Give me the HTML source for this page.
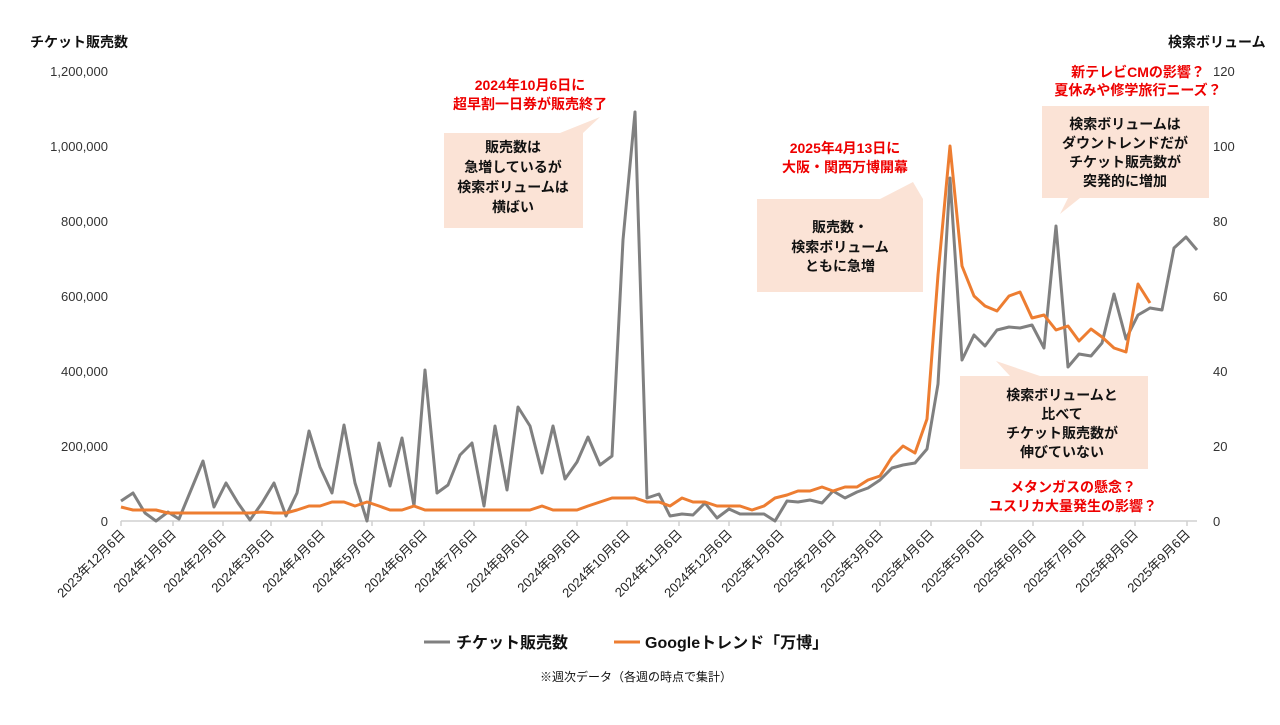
<!DOCTYPE html>
<html><head><meta charset="utf-8"><style>
body{margin:0;background:#fff;}
svg text{font-family:"Liberation Sans","Noto Sans CJK JP",sans-serif;}
</style></head><body>
<svg width="1280" height="720" viewBox="0 0 1280 720" xmlns="http://www.w3.org/2000/svg">
<rect width="1280" height="720" fill="#fff"/>
<text x="30" y="47" font-size="14" font-weight="bold" fill="#111">チケット販売数</text>
<text x="1168" y="47" font-size="14" font-weight="bold" fill="#111">検索ボリューム</text>
<g font-size="13" fill="#333" text-anchor="end">
<text x="108" y="76">1,200,000</text>
<text x="108" y="151">1,000,000</text>
<text x="108" y="226">800,000</text>
<text x="108" y="301">600,000</text>
<text x="108" y="376">400,000</text>
<text x="108" y="451">200,000</text>
<text x="108" y="526">0</text>
</g>
<g font-size="13" fill="#333">
<text x="1213" y="76">120</text>
<text x="1213" y="151">100</text>
<text x="1213" y="226">80</text>
<text x="1213" y="301">60</text>
<text x="1213" y="376">40</text>
<text x="1213" y="451">20</text>
<text x="1213" y="526">0</text>
</g>
<line x1="121" y1="521" x2="1197" y2="521" stroke="#d0d0d0" stroke-width="1.5"/>
<g stroke="#d0d0d0" stroke-width="1.5">
<line x1="121" y1="521" x2="121" y2="526"/><line x1="173" y1="521" x2="173" y2="526"/><line x1="223" y1="521" x2="223" y2="526"/><line x1="271" y1="521" x2="271" y2="526"/><line x1="322" y1="521" x2="322" y2="526"/><line x1="372" y1="521" x2="372" y2="526"/><line x1="424" y1="521" x2="424" y2="526"/><line x1="474" y1="521" x2="474" y2="526"/><line x1="526" y1="521" x2="526" y2="526"/><line x1="577" y1="521" x2="577" y2="526"/><line x1="627" y1="521" x2="627" y2="526"/><line x1="679" y1="521" x2="679" y2="526"/><line x1="729" y1="521" x2="729" y2="526"/><line x1="781" y1="521" x2="781" y2="526"/><line x1="833" y1="521" x2="833" y2="526"/><line x1="880" y1="521" x2="880" y2="526"/><line x1="931" y1="521" x2="931" y2="526"/><line x1="981" y1="521" x2="981" y2="526"/><line x1="1033" y1="521" x2="1033" y2="526"/><line x1="1083" y1="521" x2="1083" y2="526"/><line x1="1135" y1="521" x2="1135" y2="526"/><line x1="1187" y1="521" x2="1187" y2="526"/>
</g>
<g font-size="13" fill="#222" text-anchor="end">
<text transform="translate(126,535) rotate(-45)">2023年12月6日</text>
<text transform="translate(177,535) rotate(-45)">2024年1月6日</text>
<text transform="translate(227,535) rotate(-45)">2024年2月6日</text>
<text transform="translate(275,535) rotate(-45)">2024年3月6日</text>
<text transform="translate(326,535) rotate(-45)">2024年4月6日</text>
<text transform="translate(376,535) rotate(-45)">2024年5月6日</text>
<text transform="translate(428,535) rotate(-45)">2024年6月6日</text>
<text transform="translate(478,535) rotate(-45)">2024年7月6日</text>
<text transform="translate(530,535) rotate(-45)">2024年8月6日</text>
<text transform="translate(581,535) rotate(-45)">2024年9月6日</text>
<text transform="translate(631,535) rotate(-45)">2024年10月6日</text>
<text transform="translate(683,535) rotate(-45)">2024年11月6日</text>
<text transform="translate(733,535) rotate(-45)">2024年12月6日</text>
<text transform="translate(785,535) rotate(-45)">2025年1月6日</text>
<text transform="translate(837,535) rotate(-45)">2025年2月6日</text>
<text transform="translate(884,535) rotate(-45)">2025年3月6日</text>
<text transform="translate(935,535) rotate(-45)">2025年4月6日</text>
<text transform="translate(985,535) rotate(-45)">2025年5月6日</text>
<text transform="translate(1037,535) rotate(-45)">2025年6月6日</text>
<text transform="translate(1087,535) rotate(-45)">2025年7月6日</text>
<text transform="translate(1139,535) rotate(-45)">2025年8月6日</text>
<text transform="translate(1191,535) rotate(-45)">2025年9月6日</text>
</g>
<g fill="#fbe3d6">
<path d="M444,133 H560 L600,117 L583,133 V228 H444 Z"/>
<path d="M757,199 H880 L913,182 L923,199 V292 H757 Z"/>
<path d="M1042,106 H1209 V198 H1080 L1060,214 L1068,198 H1042 Z"/>
<path d="M960,376 H1148 V469 H960 Z M1040,376 L996,361 L1010,376 Z"/>
</g>
<g font-size="14" font-weight="bold" fill="#111" text-anchor="middle">
<text x="513" y="152">販売数は</text><text x="513" y="172">急増しているが</text><text x="513" y="192">検索ボリュームは</text><text x="513" y="212">横ばい</text>
<text x="840" y="232">販売数・</text><text x="840" y="252">検索ボリューム</text><text x="840" y="271">ともに急増</text>
<text x="1125" y="129">検索ボリュームは</text><text x="1125" y="148">ダウントレンドだが</text><text x="1125" y="167">チケット販売数が</text><text x="1125" y="186">突発的に増加</text>
<text x="1062" y="400">検索ボリュームと</text><text x="1062" y="419">比べて</text><text x="1062" y="438">チケット販売数が</text><text x="1062" y="457">伸びていない</text>
</g>
<g font-size="14" font-weight="bold" fill="#ee0000" text-anchor="middle">
<text x="530" y="90">2024年10月6日に</text><text x="530" y="109">超早割一日券が販売終了</text>
<text x="845" y="153">2025年4月13日に</text><text x="845" y="172">大阪・関西万博開幕</text>
<text x="1138" y="77">新テレビCMの影響？</text><text x="1138" y="95">夏休みや修学旅行ニーズ？</text>
<text x="1073" y="492">メタンガスの懸念？</text><text x="1073" y="511">ユスリカ大量発生の影響？</text>
</g>
<polyline fill="none" stroke="#808080" stroke-width="3" stroke-linejoin="round" points="121,501 133,493 145,513 156,521 168,512 179,519 191,490 203,461 214,507 226,483 238,503 250,520 262,503 274,483 286,516 297,493 309,431 320,467 332,493 344,425 355,483 367,521 379,443 390,486 402,438 414,506 425,370 437,493 448,485 460,455 472,443 484,506 495,426 507,490 518,407 530,426 542,473 553,426 565,479 577,462 588,437 600,465 612,456 623,240 635,112 647,498 659,494 670,516 682,514 693,515 705,503 717,518 729,509 740,514 752,514 764,514 775,521 787,501 798,502 810,500 822,503 833,491 845,498 857,492 868,488 880,480 892,468 903,465 915,463 927,449 938,384 950,178 962,360 974,335 985,346 997,330 1009,327 1020,328 1032,325 1044,348 1056,226 1068,367 1079,354 1091,356 1102,343 1114,294 1126,339 1138,315 1150,308 1162,310 1174,248 1186,237 1197,250"/>
<polyline fill="none" stroke="#ed7d31" stroke-width="3" stroke-linejoin="round" points="121,507 133,510 145,510 156,510 168,513 179,513 191,513 203,513 214,513 226,513 238,513 250,513 262,512 274,513 286,513 297,510 309,506 320,506 332,502 344,502 355,506 367,502 379,506 390,510 402,510 414,506 425,510 437,510 448,510 460,510 472,510 484,510 495,510 507,510 518,510 530,510 542,506 553,510 565,510 577,510 588,506 600,502 612,498 623,498 635,498 647,502 659,502 670,506 682,498 693,502 705,502 717,506 729,506 740,506 752,510 764,506 775,498 787,495 798,491 810,491 822,487 833,491 845,487 857,487 868,480 880,476 892,457 903,446 915,453 927,419 938,275 950,146 962,266 974,296 985,306 997,311 1009,296 1020,292 1032,318 1044,315 1056,330 1068,326 1079,341 1091,329 1102,337 1114,348 1126,352 1138,284 1150,303"/>
<line x1="424" y1="642" x2="450" y2="642" stroke="#808080" stroke-width="3"/>
<text x="456" y="648" font-size="16" font-weight="bold" fill="#111">チケット販売数</text>
<line x1="614" y1="642" x2="640" y2="642" stroke="#ed7d31" stroke-width="3"/>
<text x="645" y="648" font-size="16" font-weight="bold" fill="#111">Googleトレンド「万博」</text>
<text x="636" y="681" font-size="12" fill="#111" text-anchor="middle">※週次データ（各週の時点で集計）</text>
</svg>
</body></html>
